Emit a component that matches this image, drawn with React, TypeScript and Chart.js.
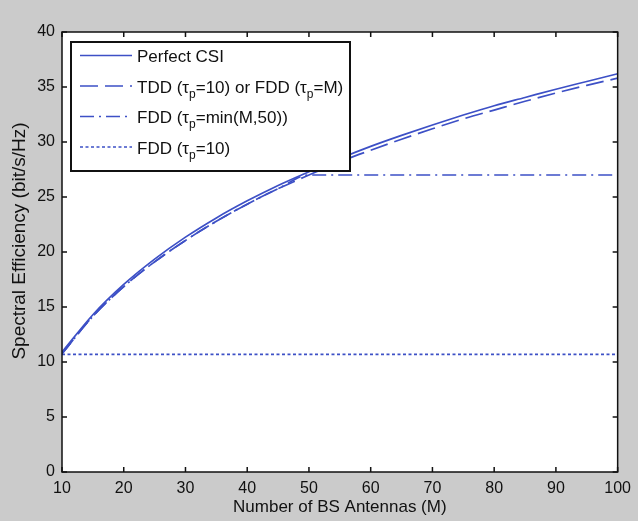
import { useEffect, useRef } from "react";
import { Chart, registerables } from "chart.js";

Chart.register(...registerables);

// ---- data ----
const antennas = [10, 15, 20, 25, 30, 35, 40, 45, 50, 55, 60, 65, 70, 75, 80, 85, 90, 95, 100];
const perfectCSI = [10.9, 14.3, 17.05, 19.35, 21.35, 23.1, 24.65, 26.05, 27.3, 28.5, 29.6, 30.6, 31.55, 32.45, 33.3, 34.05, 34.8, 35.5, 36.2];
const tddOrFddM = [10.75, 14.15, 16.85, 19.1, 21.05, 22.8, 24.35, 25.75, 27.0, 28.2, 29.25, 30.25, 31.2, 32.1, 32.9, 33.7, 34.45, 35.15, 35.8];
const fddMin50 = [10.75, 14.15, 16.85, 19.1, 21.05, 22.8, 24.35, 25.75, 27.0, 27.0, 27.0, 27.0, 27.0, 27.0, 27.0, 27.0, 27.0, 27.0, 27.0];
const fdd10 = [10.7, 10.7, 10.7, 10.7, 10.7, 10.7, 10.7, 10.7, 10.7, 10.7, 10.7, 10.7, 10.7, 10.7, 10.7, 10.7, 10.7, 10.7, 10.7];

const xTicks = [10, 20, 30, 40, 50, 60, 70, 80, 90, 100];
const yTicks = [0, 5, 10, 15, 20, 25, 30, 35, 40];

const seriesLabels = [
  "Perfect CSI",
  "TDD (τ_p=10) or FDD (τ_p=M)",
  "FDD (τ_p=min(M,50))",
  "FDD (τ_p=10)",
];
const seriesValues = [perfectCSI, tddOrFddM, fddMin50, fdd10];
const seriesDash: number[][] = [[], [18, 7], [14, 5, 2, 5], [3, 2.5]];

const xTitle = "Number of BS Antennas (M)";
const yTitle = "Spectral Efficiency (bit/s/Hz)";

const LINE_COLOR = "#3d50c6";
const BG = "#cbcbcb";
const FONT = "'Liberation Sans', Arial, Helvetica, sans-serif";

const frame = {
  id: "matlabFrame",
  beforeDraw(chart: any) {
    const { ctx, chartArea: a } = chart;
    ctx.save();
    ctx.fillStyle = BG;
    ctx.fillRect(0, 0, chart.width, chart.height);
    ctx.fillStyle = "#ffffff";
    ctx.fillRect(a.left, a.top, a.right - a.left, a.bottom - a.top);
    ctx.restore();
  },
  afterDatasetsDraw(chart: any) {
    const { ctx, chartArea: a, scales } = chart;
    ctx.save();
    ctx.strokeStyle = "#111";
    ctx.lineWidth = 1.5;
    ctx.strokeRect(a.left, a.top, a.right - a.left, a.bottom - a.top);
    const tl = 5;
    ctx.beginPath();
    for (const v of xTicks) {
      const px = scales.x.getPixelForValue(v);
      ctx.moveTo(px, a.bottom);
      ctx.lineTo(px, a.bottom - tl);
      ctx.moveTo(px, a.top);
      ctx.lineTo(px, a.top + tl);
    }
    for (const v of yTicks) {
      const py = scales.y.getPixelForValue(v);
      ctx.moveTo(a.left, py);
      ctx.lineTo(a.left + tl, py);
      ctx.moveTo(a.right, py);
      ctx.lineTo(a.right - tl, py);
    }
    ctx.stroke();

    // y axis title
    ctx.save();
    ctx.translate(20, 241);
    ctx.rotate(-Math.PI / 2);
    ctx.font = `19px ${FONT}`;
    ctx.fillStyle = "#111";
    ctx.textAlign = "center";
    ctx.textBaseline = "middle";
    ctx.fillText(yTitle, 0, 0);
    ctx.restore();

    // legend
    const bx = 71, by = 42, bw = 279, bh = 129;
    ctx.fillStyle = "#fff";
    ctx.fillRect(bx, by, bw, bh);
    ctx.lineWidth = 2;
    ctx.strokeStyle = "#111";
    ctx.strokeRect(bx, by, bw, bh);
    seriesLabels.forEach((label, i) => {
      const ly = 55.5 + 30.5 * i;
      ctx.strokeStyle = LINE_COLOR;
      ctx.lineWidth = 1.7;
      ctx.setLineDash(seriesDash[i]);
      ctx.beginPath();
      ctx.moveTo(80, ly);
      ctx.lineTo(132, ly);
      ctx.stroke();
      ctx.setLineDash([]);
      const parts = label.split(/_(\w)/);
      let x = 137;
      const base = ly + 6.5;
      ctx.fillStyle = "#111";
      ctx.textBaseline = "alphabetic";
      ctx.textAlign = "left";
      parts.forEach((p, k) => {
        if (k % 2 === 1) {
          ctx.font = `12px ${FONT}`;
          ctx.fillText(p, x, base + 5);
          x += ctx.measureText(p).width;
        } else {
          ctx.font = `17px ${FONT}`;
          ctx.fillText(p, x, base);
          x += ctx.measureText(p).width;
        }
      });
    });
    ctx.restore();
  },
};

export default function App() {
  const ref = useRef<HTMLCanvasElement>(null);
  useEffect(() => {
    document.body.style.margin = "0";
    const datasets = seriesValues.map((vals, i) => ({
      label: seriesLabels[i],
      data: antennas.map((m, j) => ({ x: m, y: vals[j] })),
      borderColor: LINE_COLOR,
      backgroundColor: LINE_COLOR,
      borderWidth: 1.7,
      borderDash: seriesDash[i],
      pointRadius: 0,
      fill: false,
      cubicInterpolationMode: "monotone" as const,
    }));
    const chart = new Chart(ref.current!, {
      type: "line",
      data: { datasets },
      plugins: [frame],
      options: {
        animation: false,
        responsive: false,
        devicePixelRatio: 1,
        layout: { padding: { top: 32, right: 19, left: 0, bottom: 0 } },
        plugins: { legend: { display: false }, tooltip: { enabled: false } },
        scales: {
          x: {
            type: "linear",
            min: 10,
            max: 100,
            afterBuildTicks: (s: any) => {
              s.ticks = xTicks.map((v) => ({ value: v }));
            },
            afterFit: (s: any) => {
              s.height = 49;
            },
            grid: { display: false, drawTicks: false },
            border: { display: false },
            ticks: {
              padding: 7,
              color: "#111",
              maxRotation: 0,
              autoSkip: false,
              font: { family: FONT, size: 16 },
            },
            title: {
              display: true,
              text: xTitle,
              color: "#111",
              font: { family: FONT, size: 17 },
              padding: { top: 0, bottom: 3 },
            },
          },
          y: {
            type: "linear",
            min: 0,
            max: 40,
            afterBuildTicks: (s: any) => {
              s.ticks = yTicks.map((v) => ({ value: v }));
            },
            afterFit: (s: any) => {
              s.width = 62;
            },
            grid: { display: false, drawTicks: false },
            border: { display: false },
            ticks: {
              padding: 7,
              color: "#111",
              font: { family: FONT, size: 16 },
            },
            title: { display: false },
          },
        },
      },
    });
    return () => chart.destroy();
  }, []);
  return (
    <div style={{ width: 638, height: 521, background: BG }}>
      <canvas ref={ref} width={638} height={521} style={{ display: "block" }} />
    </div>
  );
}
